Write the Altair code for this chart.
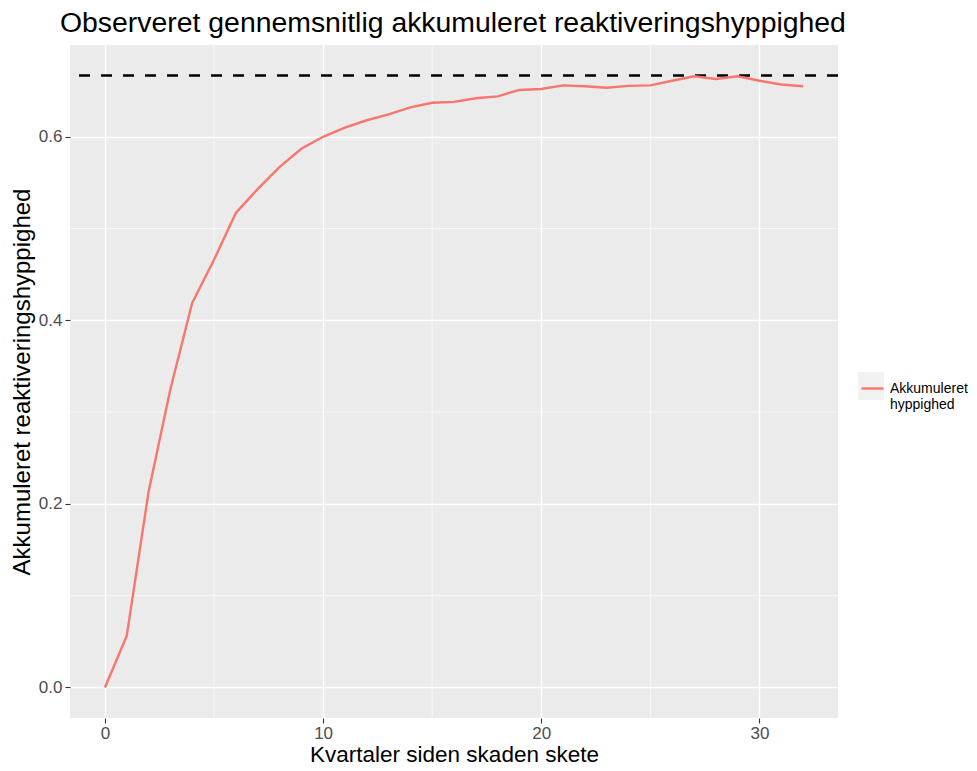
import altair as alt
import pandas as pd

# Data
kvartaler = list(range(0, 33))
hyppighed = [0.000, 0.056, 0.213, 0.325, 0.419, 0.466, 0.517, 0.543, 0.567, 0.587,
             0.600, 0.610, 0.618, 0.6245, 0.632, 0.637, 0.638, 0.642, 0.644, 0.651,
             0.652, 0.656, 0.655, 0.6535, 0.6555, 0.656, 0.661, 0.666, 0.663, 0.666,
             0.661, 0.657, 0.655]
serie_navn = "Akkumuleret hyppighed"
niveau = [0.6667]
x_minor = [5, 15, 25]
y_minor = [0.1, 0.3, 0.5]
x_ticks = [0, 10, 20, 30]
y_ticks = [0.0, 0.2, 0.4, 0.6]

df = pd.DataFrame({"kvartal": kvartaler, "hyppighed": hyppighed,
                   "serie": [serie_navn] * len(kvartaler)})
df_h = pd.DataFrame({"y": niveau})
df_xm = pd.DataFrame({"x": x_minor})
df_ym = pd.DataFrame({"y": y_minor})

FONT = "Liberation Sans"
xscale = alt.Scale(domain=[-1.6, 33.6], nice=False, zero=False)
yscale = alt.Scale(domain=[-0.0333, 0.70], nice=False, zero=False)

xaxis = alt.Axis(title="Kvartaler siden skaden skete", values=x_ticks, format="d",
                 grid=True, gridColor="white", gridWidth=1.4, domain=False,
                 tickColor="#333333", tickSize=5, tickWidth=1.1,
                 labelColor="#4d4d4d", labelFontSize=17, labelFont=FONT,
                 labelPadding=2, titleFont=FONT, titleFontSize=22.5,
                 titleFontWeight="normal", titleColor="black", titlePadding=20,
                 titleBaseline="alphabetic")
yaxis = alt.Axis(title="Akkumuleret reaktiveringshyppighed", values=y_ticks, format=".1f",
                 grid=True, gridColor="white", gridWidth=1.4, domain=False,
                 tickColor="#333333", tickSize=5, tickWidth=1.1,
                 labelColor="#4d4d4d", labelFontSize=17, labelFont=FONT,
                 labelPadding=3, titleFont=FONT, titleFontSize=24,
                 titleFontWeight="normal", titleColor="black", titlePadding=4)

minor_x = alt.Chart(df_xm).mark_rule(color="white", strokeWidth=0.7).encode(
    x=alt.X("x:Q", scale=xscale, axis=xaxis))
minor_y = alt.Chart(df_ym).mark_rule(color="white", strokeWidth=0.7).encode(
    y=alt.Y("y:Q", scale=yscale, axis=yaxis))

key_bg = alt.Chart(pd.DataFrame({"a": [0]})).mark_rect(color="#F2F2F2").encode(
    x=alt.value(788), x2=alt.value(814), y=alt.value(327), y2=alt.value(355))

hline = alt.Chart(df_h).mark_rule(color="black", strokeWidth=2.4, strokeDash=[11, 11]).encode(
    y=alt.Y("y:Q", scale=yscale, axis=yaxis))

line = alt.Chart(df).mark_line(strokeWidth=2.4).encode(
    x=alt.X("kvartal:Q", scale=xscale, axis=xaxis),
    y=alt.Y("hyppighed:Q", scale=yscale, axis=yaxis),
    color=alt.Color("serie:N",
                    scale=alt.Scale(domain=[serie_navn], range=["#F8766D"]),
                    legend=alt.Legend(title=None, orient="none", legendX=790, legendY=331,
                                      symbolType="stroke", symbolSize=484,
                                      symbolStrokeWidth=2.4, labelFontSize=14,
                                      labelFont=FONT, labelColor="black",
                                      labelOffset=5, labelBaseline="middle",
                                      labelLimit=200,
                                      labelExpr="datum.label == 'Akkumuleret hyppighed' ? ['Akkumuleret', 'hyppighed'] : datum.label")),
)

chart = alt.layer(minor_x, minor_y, key_bg, hline, line).properties(
    width=768, height=673,
    title=alt.TitleParams("Observeret gennemsnitlig akkumuleret reaktiveringshyppighed",
                          anchor="start", frame="group", dx=-10, fontSize=28.4, font=FONT,
                          fontWeight="normal", color="black", offset=6),
    autosize=alt.AutoSizeParams(type="none"),
    padding={"left": 62, "top": 37, "right": 131, "bottom": 45},
).configure_view(fill="#EBEBEB", stroke=None)

chart.save("out.html", embed_options={"renderer": "svg", "actions": False})
